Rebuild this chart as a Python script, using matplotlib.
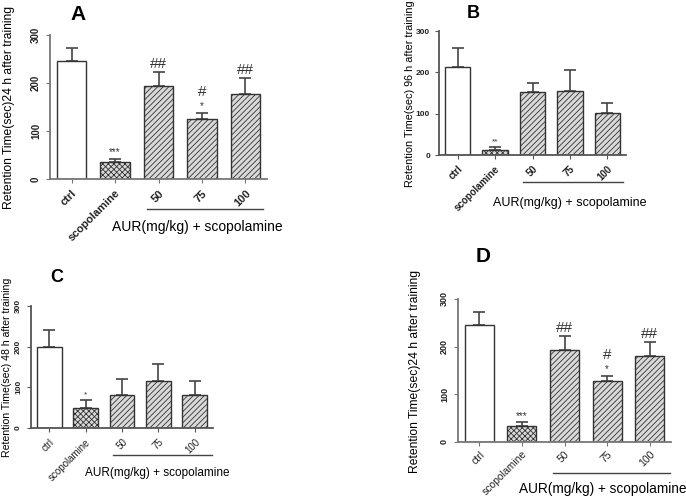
import numpy as np
import matplotlib.pyplot as plt
from matplotlib.lines import Line2D

plt.rcParams['font.family'] = ['Liberation Sans', 'DejaVu Sans']
plt.rcParams['hatch.linewidth'] = 0.6

W, H = 686, 499

# Data
groups = ['ctrl', 'scopolamine', '50', '75', '100']
a_mean = [245, 35, 193, 125, 178]
a_err = [27, 7, 29, 13, 32]
a_top = ['', '***', '##', '#', '##']
a_low = ['', '', '', '*', '']
b_mean = [212, 13, 153, 156, 102]
b_err = [48, 7, 20, 49, 25]
b_top = ['', '**', '', '', '']
c_mean = [200, 50, 80, 115, 80]
c_err = [40, 20, 40, 43, 35]
c_top = ['', '*', '', '', '']
d_mean = [246, 34, 193, 127, 180]
d_err = [26, 8, 29, 12, 30]
d_top = ['', '***', '##', '#', '##']
d_low = ['', '', '', '*', '']
no_marks = ['', '', '', '', '']


def box(l, r, t, b):
    return [l / W, 1 - b / H, (r - l) / W, (b - t) / H]


def px(x, y):
    return x / W, 1 - y / H


fig = plt.figure(figsize=(W / 100, H / 100), dpi=100)


def panel(rect, means, errs, tops, lows, ylabel, ylab_xy, ylab_fs, fs, tick_fs,
          rot_y, spine_col, letter, letter_xy, letter_fs, line, lab_xy, lab_fs,
          tick_weight='bold', pad=3.5):
    ax = fig.add_axes(box(*rect))
    x = np.arange(len(groups))
    faces = ['white', '#d9d9d9', '#d9d9d9', '#d9d9d9', '#d9d9d9']
    hatches = ['', 'xxxxxx', '//////', '//////', '//////']
    for i in x:
        ax.bar(i, means[i], 0.68, color=faces[i], edgecolor='#333333',
               hatch=hatches[i], linewidth=1.0, zorder=2)
        ax.errorbar(i, means[i], yerr=[[0], [errs[i]]], fmt='none',
                    ecolor='#444444', elinewidth=1.2, capsize=4, capthick=1.2,
                    zorder=1)
    for i in x:
        top = means[i] + errs[i]
        if lows[i]:
            ax.annotate(lows[i], (i, top), xytext=(0, 1), textcoords='offset points',
                        ha='center', va='bottom', fontsize=fs - 1, color='#333333')
            ax.annotate(tops[i], (i, top), xytext=(0, 10), textcoords='offset points',
                        ha='center', va='bottom', fontsize=fs + 3, color='#333333')
        elif tops[i]:
            big = tops[i].startswith('#')
            ax.annotate(tops[i], (i, top), xytext=(0, 1), textcoords='offset points',
                        ha='center', va='bottom', fontsize=fs + 3 if big else fs - 1,
                        color='#333333')
    ax.set_xlim(-0.5, 4.5)
    ax.set_ylim(0, 300)
    ax.set_yticks([0, 100, 200, 300])
    ax.set_xticks(x)
    ax.set_xticklabels(groups, rotation=45, ha='right', rotation_mode='anchor',
                       fontsize=tick_fs, fontweight=tick_weight)
    for t in ax.get_yticklabels():
        t.set_fontsize(tick_fs - 1)
        t.set_fontweight('bold')
        if rot_y:
            t.set_rotation(90)
            t.set_va('center')
    for s in ['top', 'right']:
        ax.spines[s].set_visible(False)
    for s in ['left', 'bottom']:
        ax.spines[s].set_color(spine_col)
        ax.spines[s].set_linewidth(1.3)
    ax.tick_params(colors='#222222', length=3, color=spine_col)
    ax.tick_params(axis='x', pad=pad)
    fig.text(*px(*ylab_xy), ylabel, fontsize=ylab_fs, rotation=90,
             ha='center', va='center')
    fig.text(*px(*letter_xy), letter, fontsize=letter_fs, fontweight='bold',
             ha='center', va='center')
    (x0, x1, yl) = line
    fig.add_artist(Line2D([x0 / W, x1 / W], [1 - yl / H, 1 - yl / H],
                          color='#444444', linewidth=1.0))
    fig.text(*px(*lab_xy), 'AUR(mg/kg) + scopolamine', fontsize=lab_fs,
             ha='center', va='center')
    return ax


panel((50, 267, 35, 179), a_mean, a_err, a_top, a_low,
      'Retention Time(sec)24 h after training', (9, 107), 8.7, 8, 8, True,
      '#777777', 'A', (78, 15), 15, (147, 263, 209), (197, 227), 10)

panel((439, 626, 31, 155), b_mean, b_err, b_top, no_marks,
      'Retention Time(sec) 96 h after training', (410, 94), 7.8, 7, 7, False,
      '#555555', 'B', (473, 13), 13, (523, 623, 182), (570, 203), 9)

panel((31, 213, 306, 428), c_mean, c_err, c_top, no_marks,
      'Retention Time(sec) 48 h after training', (7, 367), 7.6, 7, 7, True,
      '#555555', 'C', (57, 277), 13, (113, 212, 455), (157, 473), 8.5,
      tick_weight='normal')

panel((458, 671, 299, 442), d_mean, d_err, d_top, d_low,
      'Retention Time(sec)24 h after training', (415, 371), 8.7, 8, 7.5, True,
      '#777777', 'D', (483, 257), 15, (553, 670, 473), (603, 489), 9.8,
      tick_weight='normal', pad=2)

fig.savefig('out.png', dpi=100)
